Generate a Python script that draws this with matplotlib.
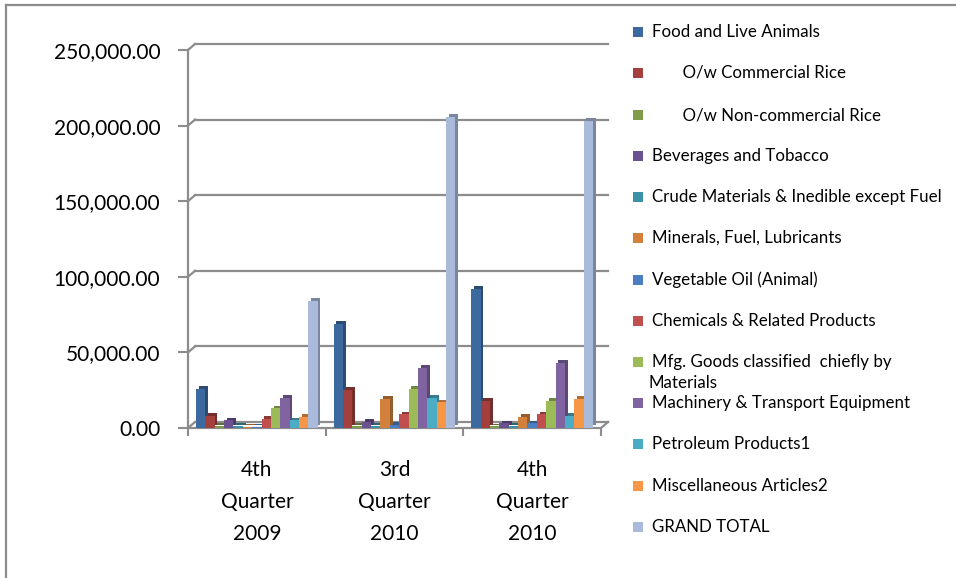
import matplotlib
matplotlib.use("Agg")
import matplotlib.pyplot as plt
import matplotlib.patheffects as pe
from matplotlib.lines import Line2D
from matplotlib.patches import Rectangle
from matplotlib.transforms import IdentityTransform, ScaledTranslation
from matplotlib.colors import to_rgb
import numpy as np

categories = ["4th\nQuarter\n2009", "3rd\nQuarter\n2010", "4th\nQuarter\n2010"]

series_names = [
    "Food and Live Animals",
    "       O/w Commercial Rice",
    "       O/w Non-commercial Rice",
    "Beverages and Tobacco",
    "Crude Materials & Inedible except Fuel",
    "Minerals, Fuel, Lubricants",
    "Vegetable Oil (Animal)",
    "Chemicals & Related Products",
    "Mfg. Goods classified  chiefly by\nMaterials",
    "Machinery & Transport Equipment",
    "Petroleum Products1",
    "Miscellaneous Articles2",
    "GRAND TOTAL",
]

food = [26000, 69000, 92000]
commercial_rice = [8000, 25000, 18000]
noncommercial_rice = [1500, 1500, 1000]
beverages = [5000, 4000, 3000]
crude = [1500, 1500, 1500]
minerals = [600, 19500, 7500]
veg_oil = [800, 2000, 3000]
chemicals = [6000, 9000, 9000]
mfg_goods = [13000, 26000, 18000]
machinery = [20000, 40000, 43000]
petroleum = [5000, 20000, 8000]
misc = [7500, 17000, 19000]
grand_total = [84000, 206000, 203000]

values = [food, commercial_rice, noncommercial_rice, beverages, crude, minerals,
          veg_oil, chemicals, mfg_goods, machinery, petroleum, misc, grand_total]

colors = ["#3D6A9E", "#A3403D", "#7F9C4A", "#6A5290", "#3B91A8", "#D2803C",
          "#4A7EC0", "#C0504D", "#9BBB59", "#8064A2", "#4BACC6", "#F79646", "#A9BADA"]

yticks = [0, 50000, 100000, 150000, 200000, 250000]

W, H = 956, 578
fig = plt.figure(figsize=(W / 100, H / 100), dpi=100)
fig.patch.set_facecolor("white")

font = "Lato"
gray = "#8C8C8C"

ax = fig.add_axes([188 / W, 1 - 428 / H, (601 - 188) / W, (428 - 50) / H])
ax.set_facecolor("none")

x = np.arange(len(categories))
n = len(values)
bw = 0.068
for i, (vals, c) in enumerate(zip(values, colors)):
    off = (i - (n - 1) / 2) * bw
    dark = tuple(v * 0.72 for v in to_rgb(c))
    ax.bar(x + off, vals, width=bw, color=c, edgecolor="none", zorder=3,
           path_effects=[pe.SimplePatchShadow(offset=(2.0, 2.0), shadow_rgbFace=dark, alpha=1.0),
                         pe.Normal()])

ax.set_xlim(-0.5, len(categories) - 0.5)
ax.set_ylim(0, 250000)
ax.set_yticks(yticks)
ax.set_yticklabels([f"{v:,.2f}" for v in yticks], fontsize=15, family=font, color="black")
ax.set_xticks(x)
ax.set_xticklabels(categories, fontsize=15, family=font, linespacing=1.74)
ax.set_xticks(np.arange(-0.5, len(categories)), minor=True)
ax.tick_params(axis="x", which="major", length=0, pad=23)
ax.tick_params(axis="x", which="minor", length=6, color=gray, width=1.5, direction="out")
ax.tick_params(axis="y", length=7, color=gray, width=1.5, pad=13)

for s in ["top", "right"]:
    ax.spines[s].set_visible(False)
for s in ["left", "bottom"]:
    ax.spines[s].set_color(gray)
    ax.spines[s].set_linewidth(1.6)

# back-wall gridlines (offset up/right to mimic depth)
dx, dy = 7, 6
ax.grid(axis="y", color=gray, linewidth=1.6, zorder=0)
shift = ScaledTranslation(dx / 100, dy / 100, fig.dpi_scale_trans)
for gl in ax.get_ygridlines():
    gl.set_transform(gl.get_transform() + shift)
    gl.set_clip_on(False)

fig.canvas.draw()
for v in yticks:
    px, py = ax.transData.transform((-0.5, v))
    fig.add_artist(Line2D([px, px + dx], [py, py + dy], transform=IdentityTransform(),
                          color=gray, linewidth=1.6))
px, py = ax.transData.transform((len(categories) - 0.5, 0))
fig.add_artist(Line2D([px, px + dx], [py, py + dy], transform=IdentityTransform(),
                      color=gray, linewidth=1.6))

# chart frame
fig.add_artist(Line2D([6 / W, 1], [1 - 5 / H, 1 - 5 / H], transform=fig.transFigure,
                      color=gray, linewidth=1.6))
fig.add_artist(Line2D([6 / W, 6 / W], [0, 1 - 5 / H], transform=fig.transFigure,
                      color=gray, linewidth=1.6))

# legend
ys = [32, 73, 115, 156, 197, 238, 280, 321, 362, 403, 444, 486, 527]
for name, c, yy in zip(series_names, colors, ys):
    fig.patches.append(Rectangle(((633) / W, 1 - (yy + 5) / H), 10 / W, 10 / H,
                                 transform=fig.transFigure, facecolor=c, edgecolor="none"))
    lines = name.split("\n")
    fig.text(652 / W, 1 - yy / H, lines[0], fontsize=12.2, family=font, va="center", ha="left")
    if len(lines) > 1:
        fig.text(648 / W, 1 - (yy + 21) / H, lines[1], fontsize=12.2, family=font,
                 va="center", ha="left")

fig.savefig("out.png", dpi=100)
